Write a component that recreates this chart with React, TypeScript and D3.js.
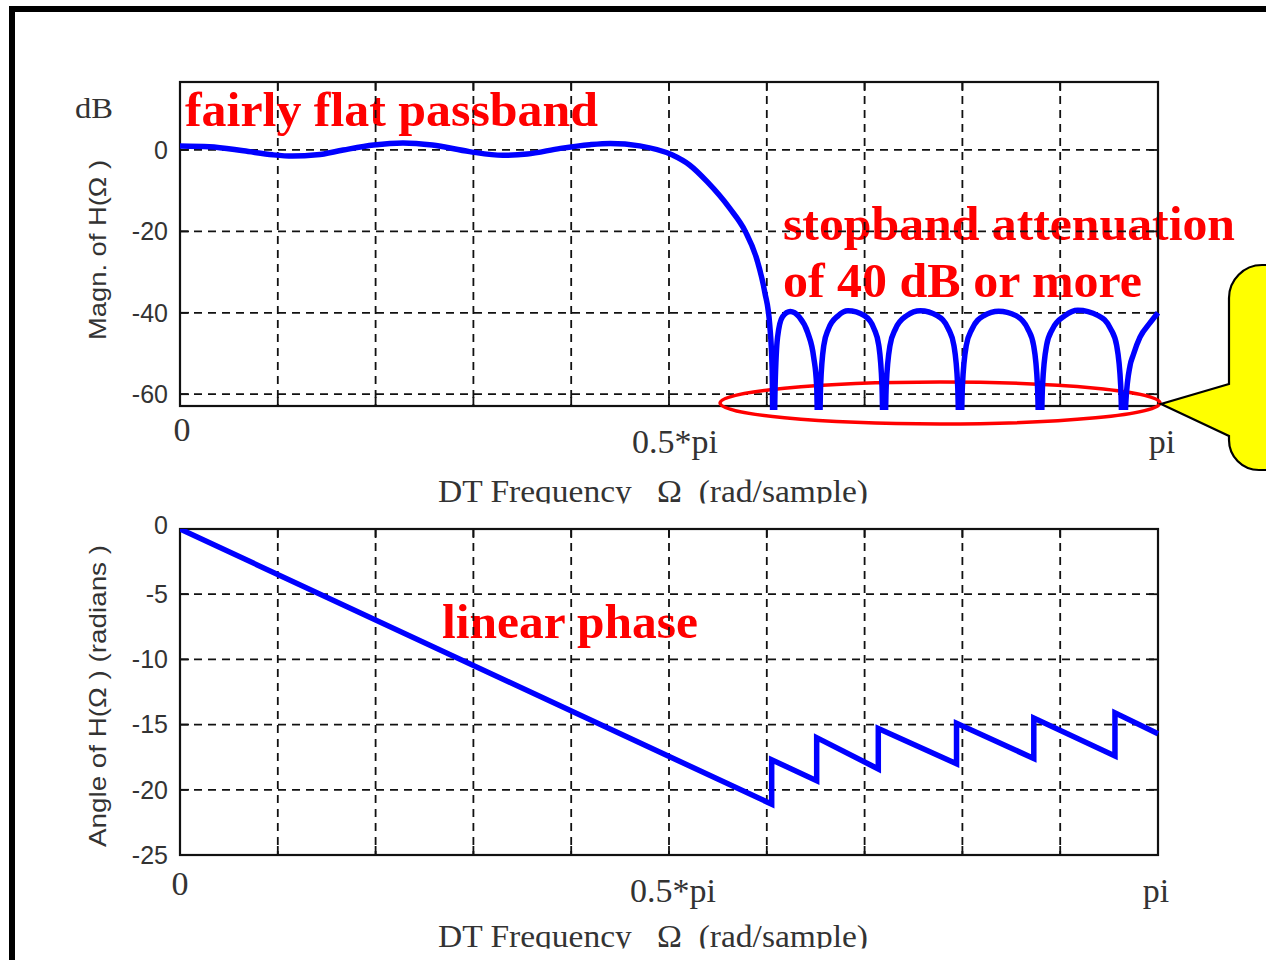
import React from "react";
import * as d3 from "d3";

// frequency values are in units of pi (0 .. 1)
const freqGrid = [0.1, 0.2, 0.3, 0.4, 0.5, 0.6, 0.7, 0.8, 0.9];
const freqTickMarks = [0, 0.1, 0.2, 0.3, 0.4, 0.5, 0.6, 0.7, 0.8, 0.9, 1];
const freqTickVals = [0, 0.5, 1];
const freqTickText = ["0", "0.5*pi", "pi"];
const magTickVals = [0, -20, -40, -60];
const phaseTickVals = [0, -5, -10, -15, -20, -25];

// magnitude response (dB)
const magFreq = [
  0.0, 0.03, 0.065, 0.095, 0.115, 0.14, 0.167, 0.198, 0.228, 0.258, 0.296, 0.33, 0.355, 0.389,
  0.419, 0.44, 0.47, 0.503, 0.521, 0.539, 0.562, 0.578, 0.59, 0.598, 0.603, 0.6055, 0.6067,
  0.6085, 0.611, 0.616, 0.624, 0.633, 0.642, 0.648, 0.651, 0.653,
  0.655, 0.6583, 0.663, 0.673, 0.683, 0.6998, 0.7098, 0.7145, 0.7178, 0.7198,
  0.7221, 0.726, 0.7315, 0.7431, 0.757, 0.7742, 0.7858, 0.7913, 0.7952, 0.7975,
  0.8, 0.804, 0.8098, 0.822, 0.837, 0.8548, 0.867, 0.8728, 0.8768, 0.8793,
  0.8819, 0.8861, 0.8921, 0.9049, 0.918, 0.9389, 0.9517, 0.9577, 0.9619, 0.9645,
  0.9671, 0.9714, 0.9745, 0.9816, 0.9918, 1.0,
];
const magDb = [
  1.0, 0.8, -0.2, -1.2, -1.5, -1.2, 0.0, 1.2, 1.7, 1.2, -0.4, -1.3, -1.0, 0.4,
  1.3, 1.6, 1.0, -1.2, -3.7, -7.8, -14.3, -20.0, -27.0, -35.0, -43.0, -54.0, -80.0,
  -58, -46, -41, -39.7, -41, -45, -51, -58, -80,
  -58, -48, -44, -40.7, -39.5, -40.7, -44, -48, -58, -80,
  -58, -48, -44, -40.7, -39.5, -40.7, -44, -48, -58, -80,
  -58, -48, -44, -40.7, -39.6, -40.7, -44, -48, -58, -80,
  -58, -48, -44, -40.7, -39.4, -40.7, -44, -48, -58, -80,
  -62, -53, -50.5, -46, -42.5, -40.0,
];

// phase response (radians)
const phaseFreq = [0, 0.605, 0.605, 0.651, 0.651, 0.714, 0.714, 0.794, 0.794, 0.873, 0.873, 0.956, 0.956, 1.0];
const phaseRad = [0, -21.1, -17.7, -19.3, -16.0, -18.4, -15.3, -18.0, -14.9, -17.6, -14.5, -17.4, -14.1, -15.7];

const SERIF = '"Liberation Serif", "Times New Roman", serif';
const SANS = '"Liberation Sans", Arial, sans-serif';
const BLUE = "#0000ff";
const RED = "#ff0000";

const X0 = 180;
const X1 = 1158;

function Panel({ y, yTicks, id }: { y: d3.ScaleLinear<number, number>; yTicks: number[]; id: string }) {
  const x = d3.scaleLinear().domain([0, 1]).range([X0, X1]);
  const [yb, yt] = y.range();
  return (
    <g>
      {freqGrid.map((f) => (
        <line key={"vg" + f} x1={x(f)} x2={x(f)} y1={yt} y2={yb} stroke="#111" strokeWidth={1.8} strokeDasharray="8,6" />
      ))}
      {yTicks
        .filter((v) => y(v) > yt + 2 && y(v) < yb - 2)
        .map((v) => (
          <line key={"hg" + v} x1={X0} x2={X1} y1={y(v)} y2={y(v)} stroke="#111" strokeWidth={1.8} strokeDasharray="8,6" />
        ))}
      {freqTickMarks.map((f) => (
        <g key={"xt" + f}>
          <line x1={x(f)} x2={x(f)} y1={yb} y2={yb - 9} stroke="#111" strokeWidth={1.8} />
          <line x1={x(f)} x2={x(f)} y1={yt} y2={yt + 9} stroke="#111" strokeWidth={1.8} />
        </g>
      ))}
      {yTicks.map((v) => (
        <g key={"yt" + v}>
          <line x1={X0} x2={X0 + 9} y1={y(v)} y2={y(v)} stroke="#111" strokeWidth={1.8} />
          <line x1={X1} x2={X1 - 9} y1={y(v)} y2={y(v)} stroke="#111" strokeWidth={1.8} />
        </g>
      ))}
      <rect x={X0} y={yt} width={X1 - X0} height={yb - yt} fill="none" stroke="#111" strokeWidth={2.2} />
      <clipPath id={id}>
        <rect x={X0} y={yt} width={X1 - X0 + 3} height={yb - yt + 4} />
      </clipPath>
    </g>
  );
}

export default function App() {
  const x = d3.scaleLinear().domain([0, 1]).range([X0, X1]);
  const yMag = d3.scaleLinear().domain([-62.9, 16.7]).range([406, 82]);
  const yPh = d3.scaleLinear().domain([-25, 0]).range([855, 529]);

  const magLine = d3
    .line<number>()
    .x((_, i) => x(magFreq[i]))
    .y((d) => yMag(d))
    .curve(d3.curveMonotoneX);
  const phLine = d3
    .line<number>()
    .x((_, i) => x(phaseFreq[i]))
    .y((d) => yPh(d));

  const bigText = { fontFamily: SERIF, fontWeight: 700, fontSize: 48, fill: RED } as const;

  return (
    <svg
      width={1266}
      height={960}
      style={{ position: "absolute", left: 0, top: 0, background: "#fff" }}
    >
      <rect x={0} y={0} width={1266} height={960} fill="#fff" />
      {/* outer slide frame */}
      <rect x={12} y={9} width={1400} height={1100} fill="none" stroke="#000" strokeWidth={6} />

      {/* annotations (under the grid) */}
      <text x={185} y={126} {...bigText} textLength={413} lengthAdjust="spacingAndGlyphs">
        fairly flat passband
      </text>
      <text x={783} y={240} {...bigText} textLength={452} lengthAdjust="spacingAndGlyphs">
        stopband attenuation
      </text>
      <text x={783} y={297} {...bigText} textLength={359} lengthAdjust="spacingAndGlyphs">
        of 40 dB or more
      </text>
      <text x={442} y={638} {...bigText} textLength={256} lengthAdjust="spacingAndGlyphs">
        linear phase
      </text>

      {/* top panel */}
      <Panel y={yMag} yTicks={magTickVals} id="clipTop" />
      {magTickVals.map((v) => (
        <text key={"ml" + v} x={168} y={yMag(v)} dy="0.35em" textAnchor="end" fontFamily={SANS} fontSize={25} fill="#333">
          {v}
        </text>
      ))}
      <text x={75} y={118} fontFamily={SERIF} fontSize={29} fill="#333" textLength={38} lengthAdjust="spacingAndGlyphs">
        dB
      </text>
      <text
        transform="translate(106,250) rotate(-90)"
        textAnchor="middle"
        fontFamily={SANS}
        fontSize={24}
        fill="#333"
        textLength={180}
        lengthAdjust="spacingAndGlyphs"
        style={{ whiteSpace: "pre" }}
      >
        {"Magn. of H(\u03A9 )"}
      </text>
      {freqTickVals.map((f, i) => (
        <text
          key={"fx" + f}
          x={x(f) + (i === 0 ? 2 : i === 1 ? 6 : 4)}
          y={i === 0 ? 441 : 453}
          textAnchor="middle"
          fontFamily={SERIF}
          fontSize={34}
          fill="#333"
        >
          {freqTickText[i]}
        </text>
      ))}
      <clipPath id="xlabTop">
        <rect x={0} y={440} width={1266} height={63.5} />
      </clipPath>
      <text
        x={438}
        y={502}
        fontFamily={SERIF}
        fontSize={32}
        fill="#333"
        textLength={430}
        lengthAdjust="spacingAndGlyphs"
        clipPath="url(#xlabTop)"
        style={{ whiteSpace: "pre" }}
      >
        {"DT Frequency   \u03A9  (rad/sample)"}
      </text>

      {/* red ellipse */}
      <ellipse cx={940} cy={403} rx={220} ry={21} fill="none" stroke={RED} strokeWidth={3.5} />

      <path d={magLine(magDb) || ""} fill="none" stroke={BLUE} strokeWidth={5.5} strokeLinejoin="round" clipPath="url(#clipTop)" />

      {/* callout */}
      <path
        d="M1229,384 L1161,404 L1229,436 L1229,440 A30,30 0 0 0 1259,470 L1400,470 L1400,265 L1262,265 A33,33 0 0 0 1229,298 Z"
        fill="#ffff00"
        stroke="#000"
        strokeWidth={2.2}
      />

      {/* bottom panel */}
      <Panel y={yPh} yTicks={phaseTickVals} id="clipBot" />
      {phaseTickVals.map((v) => (
        <text key={"pl" + v} x={168} y={yPh(v) - (v === 0 ? 4 : 0)} dy="0.35em" textAnchor="end" fontFamily={SANS} fontSize={25} fill="#333">
          {v}
        </text>
      ))}
      <text
        transform="translate(106,696) rotate(-90)"
        textAnchor="middle"
        fontFamily={SANS}
        fontSize={24}
        fill="#333"
        textLength={302}
        lengthAdjust="spacingAndGlyphs"
        style={{ whiteSpace: "pre" }}
      >
        {"Angle of H(\u03A9 ) (radians )"}
      </text>
      {freqTickVals.map((f, i) => (
        <text
          key={"bx" + f}
          x={x(f) + (i === 0 ? 0 : i === 1 ? 4 : -2)}
          y={i === 0 ? 895 : 902}
          textAnchor="middle"
          fontFamily={SERIF}
          fontSize={34}
          fill="#333"
        >
          {freqTickText[i]}
        </text>
      ))}
      <clipPath id="xlabBot">
        <rect x={0} y={900} width={1266} height={48.5} />
      </clipPath>
      <text
        x={438}
        y={947}
        fontFamily={SERIF}
        fontSize={32}
        fill="#333"
        textLength={430}
        lengthAdjust="spacingAndGlyphs"
        clipPath="url(#xlabBot)"
        style={{ whiteSpace: "pre" }}
      >
        {"DT Frequency   \u03A9  (rad/sample)"}
      </text>

      <path d={phLine(phaseRad) || ""} fill="none" stroke={BLUE} strokeWidth={5.5} strokeLinejoin="miter" clipPath="url(#clipBot)" />
    </svg>
  );
}
